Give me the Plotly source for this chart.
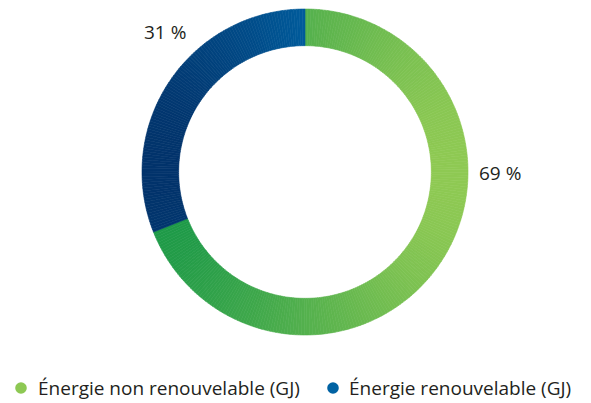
import numpy as np
import plotly.graph_objects as go

# --- Data ---
labels = ["Énergie non renouvelable (GJ)", "Énergie renouvelable (GJ)"]
shares = [69, 31]
legend_colors = ["#8dc853", "#0062a3"]
# gradient ends (left -> right) for each slice
grad_left = ["#1e9a48", "#02336b"]
grad_right = ["#8ec953", "#005b9b"]

FONT = "Open Sans"
TXT = "#231f20"
FS = 19

# page body has an 8px margin, so the figure is a bit smaller and everything
# is placed in screen pixels minus that offset
W, H, OFF = 583, 395, 8


def px(x, y):
    return (x - OFF) / W, 1 - (y - OFF) / H


def hex_rgb(h):
    h = h.lstrip("#")
    return np.array([int(h[i:i + 2], 16) for i in (0, 2, 4)], float)


def mix(a, b, t):
    c = hex_rgb(a) * (1 - t) + hex_rgb(b) * t
    return "rgb(%d,%d,%d)" % tuple(np.round(c))


# split each slice into thin pieces so a horizontal gradient can be faked
sub_vals, sub_cols, sub_labels = [], [], []
start = 0.0
total = sum(shares)
for k, v in enumerate(shares):
    n = max(int(round(v / total * 360)), 1)
    a0 = start / total * 2 * np.pi
    a1 = (start + v) / total * 2 * np.pi
    xs = np.sin(np.linspace(a0, a1, 400))
    xmin, xmax = xs.min(), xs.max()
    for j in range(n):
        mid = a0 + (a1 - a0) * (j + 0.5) / n
        t = (np.sin(mid) - xmin) / (xmax - xmin)
        sub_vals.append(v / n)
        sub_cols.append(mix(grad_left[k], grad_right[k], t))
        sub_labels.append(f"{k}-{j}")
    start += v

x0, y1 = px(142, 9)
x1, y0 = px(468, 335)

fig = go.Figure()
fig.add_trace(go.Pie(
    values=sub_vals, labels=sub_labels, sort=False, direction="clockwise",
    rotation=0, hole=0.775, textinfo="none", hoverinfo="skip", showlegend=False,
    marker=dict(colors=sub_cols, line=dict(color=sub_cols, width=0.6)),
    domain=dict(x=[x0, x1], y=[y0, y1]),
))

# percentage labels
for val, (lx, ly) in zip(shares, [(500, 173), (165, 32)]):
    ax, ay = px(lx, ly)
    fig.add_annotation(x=ax, y=ay, xref="paper", yref="paper",
                       xanchor="center", yanchor="middle",
                       text=f"{val} %", showarrow=False,
                       font=dict(family=FONT, size=FS, color=TXT))

# legend drawn by hand: dot + text
for lab, col, (mx, tx) in zip(labels, legend_colors, [(21, 36), (333, 347)]):
    cx, cy = px(mx, 388)
    r = 5.8
    fig.add_shape(type="circle", xref="paper", yref="paper",
                  x0=cx - r / W, x1=cx + r / W, y0=cy - r / H, y1=cy + r / H,
                  fillcolor=col, line=dict(width=0))
    ax, ay = px(tx, 388)
    fig.add_annotation(x=ax, y=ay, xref="paper", yref="paper", text=lab,
                       showarrow=False, xanchor="left", yanchor="middle",
                       font=dict(family=FONT, size=FS, color=TXT))

fig.update_layout(
    width=W, height=H,
    margin=dict(l=0, r=0, t=0, b=0),
    paper_bgcolor="white", plot_bgcolor="white",
    showlegend=False,
    font=dict(family=FONT, size=FS, color=TXT),
)

fig.write_html("out.html")
